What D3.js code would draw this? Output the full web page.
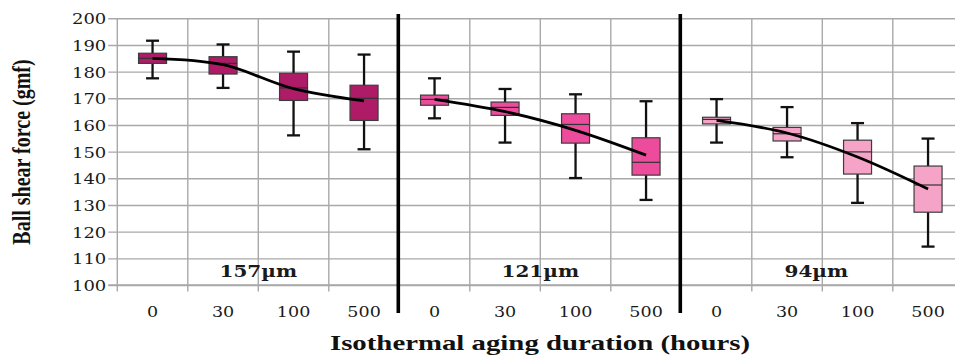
<!DOCTYPE html>
<html>
<head>
<meta charset="utf-8">
<script src="https://cdn.jsdelivr.net/npm/d3@7"></script>
<style>
  body { margin: 0; background: #fff; }
  svg { display: block; }
</style>
</head>
<body>
<div id="chart"></div>
<script>
// diameters (groups) and aging durations (categories inside each group)
var groups = ["157µm", "121µm", "94µm"];
var durations = ["0", "30", "100", "500"];
var yTicks = [100, 110, 120, 130, 140, 150, 160, 170, 180, 190, 200];

// box plot values, one row per group, in order of durations
var whiskerHigh = [[191.6, 190.2, 187.5, 186.4], [177.5, 173.5, 171.5, 168.9], [169.7, 166.7, 160.7, 154.9]];
var q3 = [[186.9, 185.6, 179.4, 174.9], [171.2, 168.6, 164.2, 155.2], [162.9, 159.1, 154.3, 144.6]];
var median = [[185.0, 183.1, 173.9, 170.0], [169.6, 166.6, 160.2, 146.0], [162.1, 156.7, 149.9, 137.5]];
var q1 = [[183.1, 179.1, 169.2, 161.7], [167.4, 163.6, 153.2, 141.2], [160.4, 154.0, 141.6, 127.3]];
var whiskerLow = [[177.5, 173.9, 156.1, 150.9], [162.5, 153.4, 140.1, 131.9], [153.4, 147.9, 130.8, 114.4]];
var mean = [[185.0, 182.6, 173.6, 169.0], [169.6, 165.0, 158.0, 148.7], [161.7, 157.0, 148.0, 136.0]];

var groupColors = ["#ae1b67", "#ec4c9b", "#f5a4c8"];

var svgSize = {w: 955, h: 356};
var plot = {left: 117.3, right: 963.3, top: 18.3, bottom: 285};

var svg = d3.select("#chart").append("svg")
	.attr("width", svgSize.w)
	.attr("height", svgSize.h);

// flatten groups x durations into 12 categories
var rows = [];
groups.forEach(function(g, gi) {
	durations.forEach(function(d, di) {
		rows.push({
			key: g + "|" + d, group: gi, label: d,
			hi: whiskerHigh[gi][di], q3: q3[gi][di], med: median[gi][di],
			q1: q1[gi][di], lo: whiskerLow[gi][di], mean: mean[gi][di]
		});
	});
});

var x = d3.scaleBand()
	.domain(rows.map(function(r) { return r.key; }))
	.range([plot.left, plot.right]);

var y = d3.scaleLinear()
	.domain([100, 200])
	.range([plot.bottom, plot.top]);

var gridColor = "#a9a9a9";
var numFont = "'DejaVu Serif', serif";
var sx = 1.2;  // the original picture is stretched sideways

// horizontal grid + y axis labels
var yAxis = d3.axisLeft(y)
	.tickValues(yTicks)
	.tickSizeInner(-(plot.right - plot.left))
	.tickSizeOuter(0)
	.tickPadding(0);

var yg = svg.append("g")
	.attr("transform", "translate(" + plot.left + ",0)")
	.call(yAxis);
yg.select(".domain").remove();
yg.selectAll(".tick line")
	.attr("x1", -9)
	.attr("stroke", gridColor)
	.attr("stroke-width", 1.4);
yg.selectAll(".tick text")
	.attr("x", null).attr("dy", null)
	.attr("transform", "translate(-11,5.5) scale(" + sx + ",1)")
	.attr("text-anchor", "end")
	.attr("fill", "#1a1a1a")
	.style("font-family", numFont)
	.style("font-size", "15px");

// vertical grid at category borders (thin) and group separators (thick)
var step = x.step();
var borders = d3.range(0, rows.length + 1);
svg.append("g").selectAll("line")
	.data(borders.filter(function(i) { return i % 4 !== 0 || i === 0; }))
	.join("line")
	.attr("x1", function(i) { return plot.left + i * step; })
	.attr("x2", function(i) { return plot.left + i * step; })
	.attr("y1", plot.top)
	.attr("y2", plot.bottom + 6.5)
	.attr("stroke", gridColor)
	.attr("stroke-width", 1.4);

// x axis line
svg.append("line")
	.attr("x1", plot.left - 9).attr("x2", plot.right)
	.attr("y1", plot.bottom).attr("y2", plot.bottom)
	.attr("stroke", gridColor)
	.attr("stroke-width", 1.4);

// x labels through the band axis
var xAxis = d3.axisBottom(x)
	.tickSize(0)
	.tickPadding(0)
	.tickFormat(function(k) { return k.split("|")[1]; });

var xg = svg.append("g")
	.attr("transform", "translate(0," + plot.bottom + ")")
	.call(xAxis);
xg.select(".domain").remove();
xg.selectAll(".tick text")
	.attr("y", null).attr("dy", null)
	.attr("transform", "translate(0,31.5) scale(1.17,1)")
	.attr("fill", "#1a1a1a")
	.style("font-family", numFont)
	.style("font-size", "15px");

// boxes
var boxW = 28, capW = 13;
var boxes = svg.append("g").selectAll("g")
	.data(rows)
	.join("g")
	.attr("transform", function(r) { return "translate(" + (x(r.key) + x.bandwidth() / 2) + ",0)"; });

boxes.append("line")
	.attr("y1", function(r) { return y(r.hi); })
	.attr("y2", function(r) { return y(r.lo); })
	.attr("stroke", "#111")
	.attr("stroke-width", 2.3);
boxes.append("line")
	.attr("x1", -capW / 2).attr("x2", capW / 2)
	.attr("y1", function(r) { return y(r.hi); })
	.attr("y2", function(r) { return y(r.hi); })
	.attr("stroke", "#111")
	.attr("stroke-width", 2.3);
boxes.append("line")
	.attr("x1", -capW / 2).attr("x2", capW / 2)
	.attr("y1", function(r) { return y(r.lo); })
	.attr("y2", function(r) { return y(r.lo); })
	.attr("stroke", "#111")
	.attr("stroke-width", 2.3);
boxes.append("rect")
	.attr("x", -boxW / 2)
	.attr("width", boxW)
	.attr("y", function(r) { return y(r.q3); })
	.attr("height", function(r) { return y(r.q1) - y(r.q3); })
	.attr("fill", function(r) { return groupColors[r.group]; })
	.attr("stroke", "#3c3c3c")
	.attr("stroke-width", 1.2);
boxes.append("line")
	.attr("x1", -boxW / 2).attr("x2", boxW / 2)
	.attr("y1", function(r) { return y(r.med); })
	.attr("y2", function(r) { return y(r.med); })
	.attr("stroke", "#333")
	.attr("stroke-width", 1.2);

// smoothed mean line, one per group
var meanLine = d3.line()
	.x(function(r) { return x(r.key) + x.bandwidth() / 2; })
	.y(function(r) { return y(r.mean); })
	.curve(d3.curveCatmullRom);

svg.append("g").selectAll("path")
	.data(groups.map(function(g, gi) { return rows.filter(function(r) { return r.group === gi; }); }))
	.join("path")
	.attr("d", meanLine)
	.attr("fill", "none")
	.attr("stroke", "#000")
	.attr("stroke-width", 2.8);

// thick separators between groups
svg.append("g").selectAll("line")
	.data([4, 8])
	.join("line")
	.attr("x1", function(i) { return plot.left + i * step - 1; })
	.attr("x2", function(i) { return plot.left + i * step - 1; })
	.attr("y1", 14)
	.attr("y2", 313)
	.attr("stroke", "#000")
	.attr("stroke-width", 3.6);

// group labels
svg.append("g").selectAll("text")
	.data(groups)
	.join("text")
	.attr("transform", function(g, gi) {
		var cx = plot.left + (gi * 4 + 2) * step - (gi === 2 ? 6 : 0);
		return "translate(" + cx + ",277) scale(1.25,1)";
	})
	.attr("text-anchor", "middle")
	.attr("fill", "#1a1a1a")
	.style("font-family", numFont)
	.style("font-weight", "bold")
	.style("font-size", "16px")
	.text(function(g) { return g; });

// axis titles
svg.append("text")
	.attr("transform", "translate(540,350) scale(1.31,1)")
	.attr("text-anchor", "middle")
	.attr("fill", "#111")
	.style("font-family", "'Liberation Serif', serif")
	.style("font-weight", "bold")
	.style("font-size", "22px")
	.text("Isothermal aging duration (hours)");

svg.append("text")
	.attr("transform", "translate(30,152) scale(1.29,1) rotate(-90)")
	.attr("text-anchor", "middle")
	.attr("fill", "#111")
	.style("font-family", "'Liberation Serif', serif")
	.style("font-weight", "bold")
	.style("font-size", "20px")
	.text("Ball shear force (gmf)");
</script>
</body>
</html>
